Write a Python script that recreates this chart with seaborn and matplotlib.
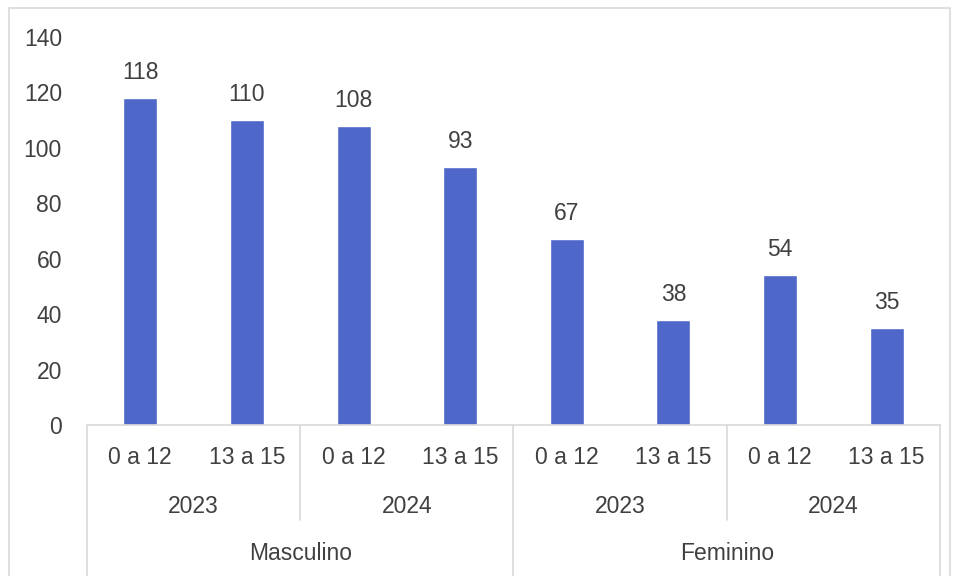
import matplotlib
matplotlib.use("Agg")
import matplotlib.pyplot as plt
import matplotlib.transforms as mtransforms
from matplotlib.patches import Rectangle
import seaborn as sns
import pandas as pd

genders = ["Masculino", "Feminino"]
years = ["2023", "2024"]
ages = ["0 a 12", "13 a 15"]
values = [118, 110, 108, 93, 67, 38, 54, 35]

rows = []
i = 0
for g in genders:
    for y in years:
        for a in ages:
            rows.append({"key": f"{g}|{y}|{a}", "age": a, "year": y, "gender": g, "value": values[i]})
            i += 1
df = pd.DataFrame(rows)

sns.set_theme(style="white")
plt.rcParams['font.family'] = ['Liberation Sans Narrow', 'Liberation Sans', 'DejaVu Sans']
TXT = "#404040"
BAR = "#4F67C8"
FS = 16.5

fig = plt.figure(figsize=(9.54, 5.76), dpi=100)
ax = fig.add_axes([87/954, 151/576, (940-87)/954, 388/576])

sns.barplot(data=df, x="key", y="value", color=BAR, width=0.32, ax=ax, saturation=1)
ax.set_ylim(0, 140)
ax.set_xlim(-0.5, len(values) - 0.5)
ax.set_yticks(range(0, 141, 20))
ax.tick_params(axis="y", labelsize=FS, colors=TXT, length=0, pad=18)
ax.set_xticks([])
ax.set_xlabel("")
ax.set_ylabel("")
for s in ["top", "right", "left"]:
    ax.spines[s].set_visible(False)
ax.spines["bottom"].set_color("#D9D9D9")
ax.spines["bottom"].set_linewidth(1.2)

ax.bar_label(ax.containers[0], fmt="%d", padding=10, fontsize=FS, color=TXT)

trans = mtransforms.blended_transform_factory(ax.transData, ax.transAxes)
for k, a in enumerate(df["age"]):
    ax.text(k, -0.085, a, transform=trans, ha="center", va="center", fontsize=FS, color=TXT)
for j in range(4):
    ax.text(2 * j + 0.5, -0.209, years[j % 2], transform=trans, ha="center", va="center", fontsize=FS, color=TXT)
for j in range(2):
    ax.text(4 * j + 1.5, -0.33, genders[j], transform=trans, ha="center", va="center", fontsize=FS, color=TXT)

for xb in [-0.5, 3.5, 7.5]:
    ax.plot([xb, xb], [0, -0.40], transform=trans, color="#D9D9D9", lw=1.2, clip_on=False)
for xb in [1.5, 5.5]:
    ax.plot([xb, xb], [0, -0.245], transform=trans, color="#D9D9D9", lw=1.2, clip_on=False)

fig.patches.append(Rectangle((9/954, -0.05), (950-9)/954, (576-8)/576 + 0.05,
                             transform=fig.transFigure, fill=False, edgecolor="#D9D9D9", lw=1.2))

fig.savefig("out.png", dpi=100)
